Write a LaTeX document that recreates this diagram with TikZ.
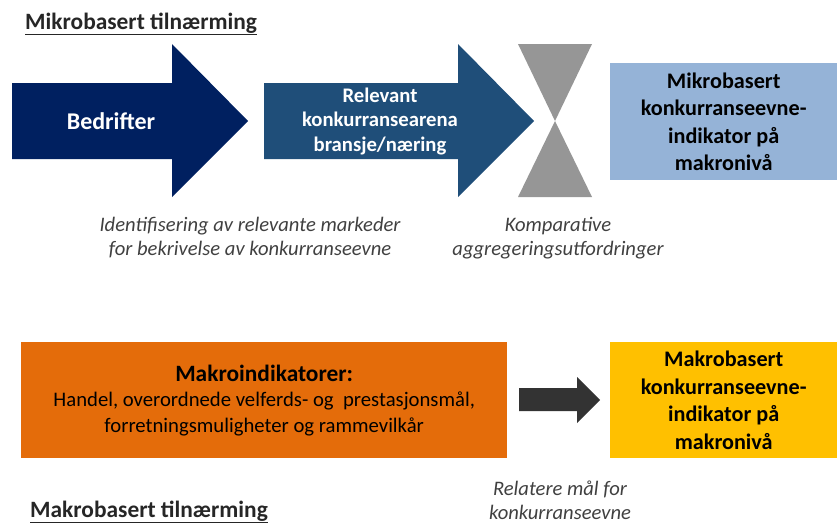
\documentclass[tikz,border=0pt]{standalone}
\usepackage{fontspec}
\setmainfont{Carlito}
\usetikzlibrary{positioning}
\definecolor{firmnavy}{HTML}{002060}
\definecolor{arenablue}{HTML}{1F4E79}
\definecolor{hourgray}{HTML}{969696}
\definecolor{mikroblue}{HTML}{95B3D7}
\definecolor{makroorange}{HTML}{E46C0A}
\definecolor{makroyellow}{HTML}{FFC000}
\definecolor{relarrow}{HTML}{333333}
\definecolor{captiongray}{HTML}{404040}

\tikzset{
  headline/.style={font=\bfseries\fontsize{23.4}{26}\selectfont, text=black!85, inner sep=0pt, anchor=base west},
  arrowtxt/.style={font=\bfseries\fontsize{24}{26}\selectfont, text=white, align=center, inner sep=0pt},
  arenatxt/.style={font=\bfseries\fontsize{20.7}{24.5}\selectfont, text=white, align=center, inner sep=0pt},
  resultbox/.style={anchor=north west, minimum width=227pt, inner sep=0pt, align=center,
    font=\bfseries\fontsize{22.2}{27.5}\selectfont},
  caption/.style={font=\itshape\fontsize{20.6}{24}\selectfont, text=captiongray, align=center, inner sep=0pt}
}

\begin{document}
\begin{tikzpicture}[x=1pt,y=-1pt]
  \useasboundingbox (0,0) rectangle (837,525);

  % mikro row
  \node[headline] (mikrotitle) at (25,29) {\underline{Mikrobasert tilnærming}};

  \fill[firmnavy] (12,83) -- (172,83) -- (172,44) -- (248,121) -- (172,197) -- (172,159) -- (12,159) -- cycle;
  \node[arrowtxt] (bedrifter) at (111,121) {Bedrifter};

  \fill[arenablue] (264,83) -- (458,83) -- (458,44) -- (534,121) -- (458,197) -- (458,159) -- (264,159) -- cycle;
  \node[arenatxt] (arena) at (380,121) {Relevant\\konkurransearena\\bransje/næring};

  \fill[hourgray] (518,44) -- (592,44) -- (555,121) -- cycle;
  \fill[hourgray] (555,121) -- (592,197) -- (518,197) -- cycle;

  \node[resultbox, fill=mikroblue, minimum height=117pt] (mikroind) at (610,63)
    {Mikrobasert\\konkurranseevne-\\indikator på\\makronivå};

  \node[caption] (identcap) at (250,238) {Identifisering av relevante markeder\\for bekrivelse av konkurranseevne};
  \node[caption] (aggrcap) at (558,238) {Komparative\\aggregeringsutfordringer};

  % makro row
  \node[anchor=north west, fill=makroorange, minimum width=486pt, minimum height=116pt, inner sep=0pt,
    align=center, font=\fontsize{20.7}{25.5}\selectfont] (makroind) at (21,342)
    {{\bfseries\fontsize{23.4}{25.5}\selectfont Makroindikatorer:}\\
     Handel, overordnede velferds- og\ \ prestasjonsmål,\\
     forretningsmuligheter og rammevilkår};

  \fill[relarrow] (519,388) -- (577,388) -- (577,377) -- (600,400) -- (577,423) -- (577,411) -- (519,411) -- cycle;

  \node[resultbox, fill=makroyellow, minimum height=116pt] (makroresult) at (610,342)
    {Makrobasert\\konkurranseevne-\\indikator på\\makronivå};

  \node[caption] (relcap) at (560,500) {Relatere mål for\\konkurranseevne};

  \node[headline] (makrotitle) at (30,517) {\underline{Makrobasert tilnærming}};
\end{tikzpicture}
\end{document}
